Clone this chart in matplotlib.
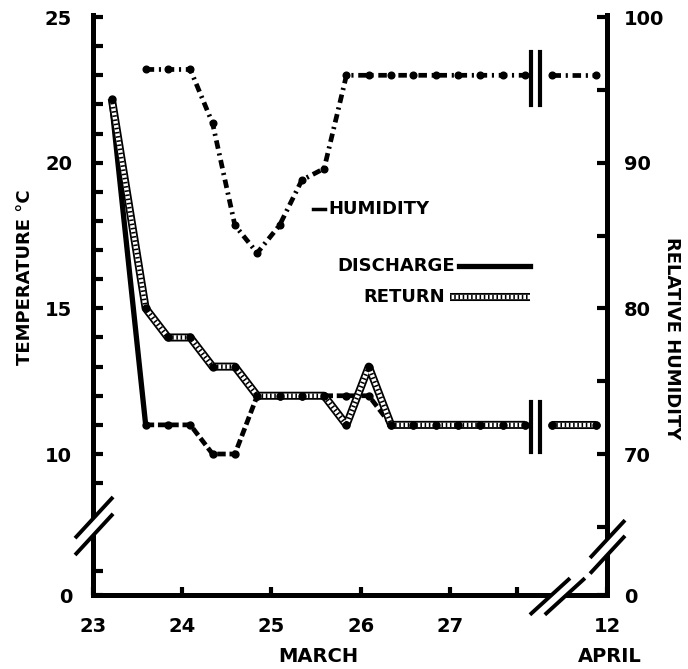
import numpy as np
import matplotlib.pyplot as plt

plt.rcParams['font.family'] = ['DejaVu Sans']
plt.rcParams['font.weight'] = 'bold'
plt.rcParams['font.size'] = 14

# Messzeitpunkte (Tag im Maerz, alle 6 Stunden); Achse nach dem 27. unterbrochen
tage = [23.21, 23.59, 23.84, 24.09, 24.34, 24.59, 24.84, 25.09, 25.34, 25.59,
        25.84, 26.09, 26.34, 26.59, 26.84, 27.09, 27.34, 27.59, 27.84]
tage_april = [28.14, 28.64]          # Werte am 12. April (hinter dem Achsenbruch)

discharge = [22.0, 11, 11, 11, 10, 10, 12, 12, 12, 12, 12, 12, 11, 11, 11, 11, 11, 11, 11]
ruecklauf = [22.2, 15, 14, 14, 13, 13, 12, 12, 12, 12, 11, 13, 11, 11, 11, 11, 11, 11, 11]
discharge_april = [11, 11]
ruecklauf_april = [11, 11]

tage_hum = tage[1:]
humidity = [96.4, 96.4, 96.4, 92.7, 85.7, 83.8, 85.7, 88.8, 89.6, 96,
            96, 96, 96, 96, 96, 96, 96, 96]
humidity_april = [96, 96]

x_ticks = [23, 24, 25, 26, 27, 27.75]
x_labels = ['23', '24', '25', '26', '27', '']

# Achsengrenzen (unten gebrochen: "0")
TMIN, TMAX = 5.16, 25.07
HMIN, HMAX = 2 * TMIN + 50, 2 * TMAX + 50
XMIN, XMAX = 23, 28.76

fig = plt.figure(figsize=(6.88, 6.69), dpi=100)
ax = fig.add_axes([0.1352, 0.1106, 0.7471, 0.867])
ax2 = ax.twinx()

ax.set_xlim(XMIN, XMAX)
ax.set_ylim(TMIN, TMAX)
ax2.set_ylim(HMIN, HMAX)

for s in ['top', 'right']:
    ax.spines[s].set_visible(False)
for s in ['top', 'left', 'bottom']:
    ax2.spines[s].set_visible(False)
ax.spines['left'].set_linewidth(3.6)
ax.spines['bottom'].set_linewidth(3.6)
ax2.spines['right'].set_linewidth(3.6)

ax.set_xticks(x_ticks + [XMAX], labels=x_labels + ['12'])
ax.set_yticks([TMIN, 10, 15, 20, 25], labels=['0', '10', '15', '20', '25'])
ax.set_yticks([6, 9, 11, 12, 13, 14, 16, 17, 18, 19, 21, 22, 23, 24], minor=True)
ax2.set_yticks([HMIN, 70, 80, 90, 100], labels=['0', '70', '80', '90', '100'])
ax2.set_yticks([65, 75, 85, 95], minor=True)

ax.tick_params(axis='y', which='both', direction='in', length=7, width=3, pad=15)
ax.tick_params(axis='x', direction='in', length=6, width=3, pad=16)
ax2.tick_params(axis='y', which='both', direction='in', length=7, width=3, pad=12)


def schraffiert(axis, x, y, marker=True, **kw):
    axis.plot(x, y, color='black', lw=5.8, zorder=3, solid_capstyle='butt', **kw)
    axis.plot(x, y, color='white', lw=3.2, zorder=3.1, solid_capstyle='butt', **kw)
    axis.plot(x, y, color='black', lw=3.2, ls=(0, (0.35, 0.6)), zorder=3.2, **kw)
    if marker:
        axis.plot(x, y, 'o', color='black', ms=5, zorder=3.3, **kw)


# Temperatur
ax.plot(tage[:2], discharge[:2], color='black', lw=3.8, zorder=2.5)
ax.plot(tage[1:], discharge[1:], color='black', lw=3.4, ls=(0, (1.8, 0.8)),
        marker='o', ms=5, zorder=2.5)
ax.plot(tage_april, discharge_april, color='black', lw=3.4, ls=(0, (1.8, 0.8)),
        marker='o', ms=5, zorder=2.5)
schraffiert(ax, tage, ruecklauf)
schraffiert(ax, tage_april, ruecklauf_april)

# Feuchte
hum_style = dict(color='black', lw=3.4, ls=(0, (1.8, 1.0, 0.45, 1.0)), marker='o', ms=4.8)
ax2.plot(tage_hum, humidity, **hum_style)
ax2.plot(tage_april, humidity_april, **hum_style)

# Beschriftungen im Diagramm
ta = ax.transAxes
ax.plot([0.428, 0.451], [0.666, 0.666], color='black', lw=2.5, transform=ta)
ax.text(0.457, 0.666, 'HUMIDITY', transform=ta, ha='left', va='center', fontsize=13)
ax.text(0.704, 0.567, 'DISCHARGE', transform=ta, ha='right', va='center', fontsize=13)
ax.plot([0.712, 0.850], [0.567, 0.567], color='black', lw=3.8, transform=ta)
ax.text(0.685, 0.514, 'RETURN', transform=ta, ha='right', va='center', fontsize=13)
schraffiert(ax, [0.695, 0.850], [0.514, 0.514], marker=False, transform=ta)

# Achsenbrueche
def bruch(axis, x0, y0, x1, y1, dx, dy):
    axis.plot([x0 + dx / 2, x1 + dx / 2], [y0 + dy / 2, y1 + dy / 2], color='white',
              lw=7, transform=axis.transAxes, clip_on=False, zorder=5)
    for k in (0, 1):
        axis.plot([x0 + k * dx, x1 + k * dx], [y0 + k * dy, y1 + k * dy], color='black',
                  lw=2.8, transform=axis.transAxes, clip_on=False, zorder=6,
                  solid_capstyle='butt')

bruch(ax, -0.035, 0.098, 0.039, 0.169, 0, -0.029)
bruch(ax, 0.850, -0.034, 0.928, 0.029, 0.029, 0)
bruch(ax2, 0.967, 0.064, 1.035, 0.129, 0, -0.027)

for xb in (0.853, 0.869):
    ax.plot([xb, xb], [0.247, 0.333], color='black', lw=3, transform=ta, zorder=6)
    ax.plot([xb, xb], [0.845, 0.936], color='black', lw=3, transform=ta, zorder=6)

fig.text(0.036, 0.585, 'TEMPERATURE °C', rotation=90, ha='center', va='center', fontsize=13)
fig.text(0.977, 0.495, 'RELATIVE HUMIDITY', rotation=270, ha='center', va='center', fontsize=13)
fig.text(0.463, 0.018, 'MARCH', ha='center', va='center', fontsize=14)
fig.text(0.886, 0.018, 'APRIL', ha='center', va='center', fontsize=14)

fig.savefig('out.png', dpi=100)
